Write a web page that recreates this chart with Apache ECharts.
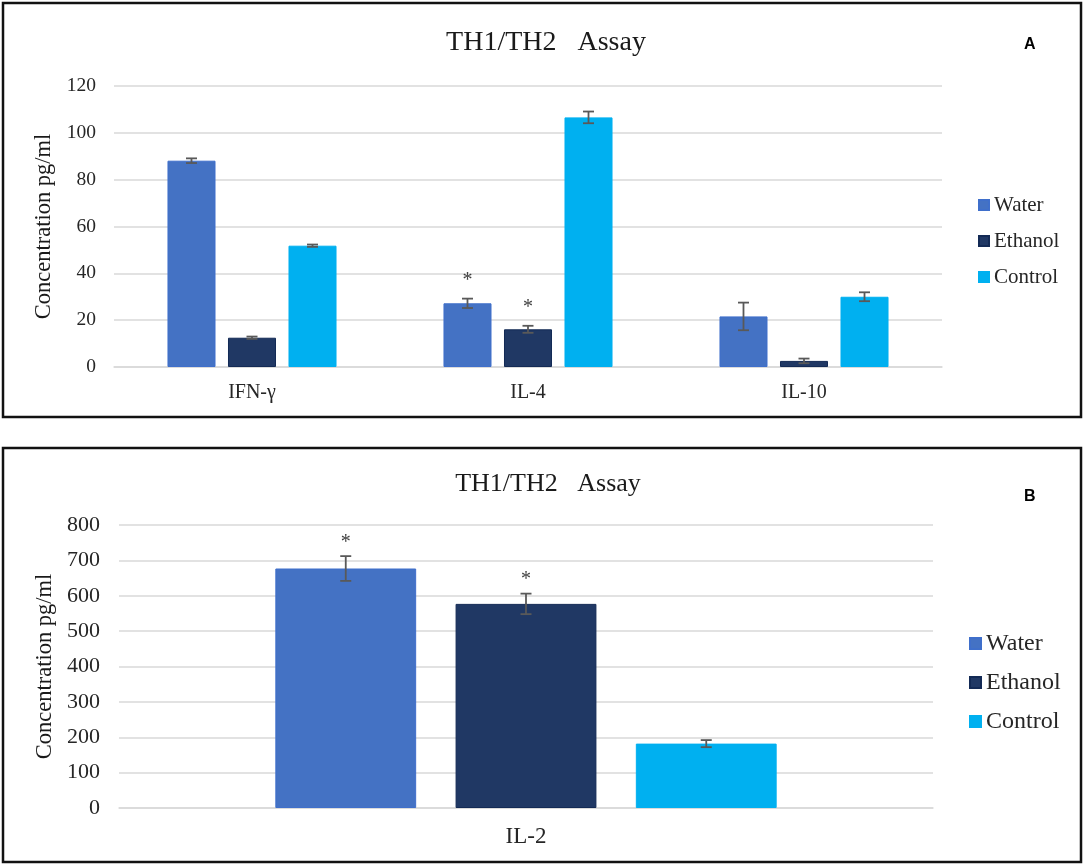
<!DOCTYPE html>
<html>
<head>
<meta charset="utf-8">
<script src="https://cdn.jsdelivr.net/npm/echarts@6/dist/echarts.min.js"></script>
<style>
html,body{margin:0;padding:0;background:#fff;}
#chart{width:1084px;height:866px;}
</style>
</head>
<body>
<div id="chart"></div>
<script>
// ---- Data ----
const seriesNames = ['Water', 'Ethanol', 'Control'];
const categoriesA = ['IFN-γ', 'IL-4', 'IL-10'];
const waterA = [88.1, 27.2, 21.6];
const waterErrA = [1.0, 2.0, 5.9];
const waterSigA = [0, 1, 0];
const ethanolA = [12.5, 16.1, 2.6];
const ethanolErrA = [0.5, 1.5, 1.0];
const ethanolSigA = [0, 1, 0];
const controlA = [51.8, 106.6, 30.0];
const controlErrA = [0.5, 2.5, 1.9];
const controlSigA = [0, 0, 0];

const categoriesB = ['IL-2'];
const waterB = [677];
const waterErrB = [35];
const waterSigB = [1];
const ethanolB = [577];
const ethanolErrB = [29];
const ethanolSigB = [1];
const controlB = [182];
const controlErrB = [10];
const controlSigB = [0];

const titleText = 'TH1/TH2   Assay';
const yAxisName = 'Concentration pg/ml';
const panelLabels = ['A', 'B'];

// ---- Styles ----
const colors = ['#4472C4', '#203864', '#00B0F0'];
const borders = ['#3F6FCB', '#132a55', '#00B0F0'];
const serif = 'Liberation Serif';
const gridColor = '#D9D9D9';

const chart = echarts.init(document.getElementById('chart'), null, {renderer: 'canvas'});

function errSeries(xi, idx, vals, errs, sigs, bwFrac, gapFrac, starOff) {
  return {
    type: 'custom', name: 'err' + xi + '_' + idx, xAxisIndex: xi, yAxisIndex: xi,
    z: 10, silent: true,
    data: vals.map((v, i) => [i, v, errs[i], sigs[i]]),
    encode: {x: 0, y: 1},
    renderItem(params, api) {
      const c = api.value(0), v = api.value(1), e = api.value(2), s = api.value(3);
      const band = api.size([1, 0])[0];
      const bw = band * bwFrac;
      const off = (idx - 1) * bw * (1 + gapFrac);
      const top = api.coord([c, v + e]);
      const bot = api.coord([c, v - e]);
      const x = top[0] + off;
      const hw = 5.5;
      const st = {stroke: '#595959', lineWidth: 1.8};
      const children = [
        {type: 'line', shape: {x1: x, y1: top[1], x2: x, y2: bot[1]}, style: st},
        {type: 'line', shape: {x1: x - hw, y1: top[1], x2: x + hw, y2: top[1]}, style: st},
        {type: 'line', shape: {x1: x - hw, y1: bot[1], x2: x + hw, y2: bot[1]}, style: st}
      ];
      if (s) {
        children.push({type: 'text', style: {text: '*', x: x, y: top[1] - starOff, align: 'center', verticalAlign: 'middle', font: '20px "Liberation Serif"', fill: '#404040'}});
      }
      return {type: 'group', children};
    }
  };
}

function barSeries(xi, idx, vals, bw, gap) {
  return {
    type: 'bar', name: seriesNames[idx], xAxisIndex: xi, yAxisIndex: xi,
    data: vals, barWidth: bw, barGap: gap,
    itemStyle: {color: colors[idx], borderColor: borders[idx], borderWidth: 1},
    emphasis: {disabled: true}
  };
}

function legendCfg(left, top, size, gap, font) {
  return {
    orient: 'vertical', icon: 'rect', itemWidth: size, itemHeight: size, itemGap: gap,
    left: left, top: top, data: seriesNames, selectedMode: false,
    textStyle: {fontFamily: serif, fontSize: font, color: '#262626', lineHeight: font + 1}
  };
}

function axisLabel(margin, size) {
  return {margin: margin, fontFamily: serif, fontSize: size, color: '#262626'};
}

const option = {
  animation: false,
  title: [
    {text: titleText, left: 541, top: 24, textAlign: 'center', textStyle: {fontFamily: serif, fontSize: 28, fontWeight: 'normal', color: '#1a1a1a'}},
    {text: titleText, left: 543, top: 466, textAlign: 'center', textStyle: {fontFamily: serif, fontSize: 26, fontWeight: 'normal', color: '#1a1a1a'}},
    {text: panelLabels[0], left: 1019, top: 32, textStyle: {fontFamily: 'Liberation Sans', fontSize: 16, fontWeight: 'bold', color: '#000'}},
    {text: panelLabels[1], left: 1019, top: 484, textStyle: {fontFamily: 'Liberation Sans', fontSize: 16, fontWeight: 'bold', color: '#000'}}
  ],
  legend: [
    legendCfg(973, 189, 10, 14, 21),
    legendCfg(964, 626, 11, 14, 24)
  ],
  grid: [
    {left: 114, right: 142, top: 86, bottom: 499},
    {left: 119, right: 151, top: 525, bottom: 58}
  ],
  xAxis: [
    {type: 'category', gridIndex: 0, data: categoriesA, axisTick: {show: false},
     axisLine: {lineStyle: {color: gridColor, width: 1.5}},
     axisLabel: axisLabel(16, 20)},
    {type: 'category', gridIndex: 1, data: categoriesB, axisTick: {show: false},
     axisLine: {lineStyle: {color: gridColor, width: 1.5}},
     axisLabel: axisLabel(17, 23)}
  ],
  yAxis: [
    {type: 'value', gridIndex: 0, min: 0, max: 120, interval: 20,
     name: yAxisName, nameLocation: 'middle', nameRotate: 90, nameGap: 57,
     nameTextStyle: {fontFamily: serif, fontSize: 22.5, color: '#1a1a1a'},
     axisLine: {show: false}, axisTick: {show: false},
     axisLabel: axisLabel(18, 19.5),
     splitLine: {lineStyle: {color: gridColor, width: 1.5}}},
    {type: 'value', gridIndex: 1, min: 0, max: 800, interval: 100,
     name: yAxisName, nameLocation: 'middle', nameRotate: 90, nameGap: 62,
     nameTextStyle: {fontFamily: serif, fontSize: 22.5, color: '#1a1a1a'},
     axisLine: {show: false}, axisTick: {show: false},
     axisLabel: axisLabel(19, 22),
     splitLine: {lineStyle: {color: gridColor, width: 1.5}}}
  ],
  graphic: [
    {type: 'rect', shape: {x: 3, y: 3, width: 1078, height: 414}, style: {fill: 'none', stroke: '#111', lineWidth: 2.5}, silent: true},
    {type: 'rect', shape: {x: 3, y: 448, width: 1078, height: 414}, style: {fill: 'none', stroke: '#111', lineWidth: 2.5}, silent: true}
  ],
  series: [
    barSeries(0, 0, waterA, '17.4%', '26%'),
    barSeries(0, 1, ethanolA, '17.4%', '26%'),
    barSeries(0, 2, controlA, '17.4%', '26%'),
    barSeries(1, 0, waterB, '17.3%', '28%'),
    barSeries(1, 1, ethanolB, '17.3%', '28%'),
    barSeries(1, 2, controlB, '17.3%', '28%'),
    errSeries(0, 0, waterA, waterErrA, waterSigA, 0.174, 0.26, 18),
    errSeries(0, 1, ethanolA, ethanolErrA, ethanolSigA, 0.174, 0.26, 18),
    errSeries(0, 2, controlA, controlErrA, controlSigA, 0.174, 0.26, 18),
    errSeries(1, 0, waterB, waterErrB, waterSigB, 0.173, 0.28, 13),
    errSeries(1, 1, ethanolB, ethanolErrB, ethanolSigB, 0.173, 0.28, 14),
    errSeries(1, 2, controlB, controlErrB, controlSigB, 0.173, 0.28, 14)
  ]
};
chart.setOption(option);
</script>
</body>
</html>
